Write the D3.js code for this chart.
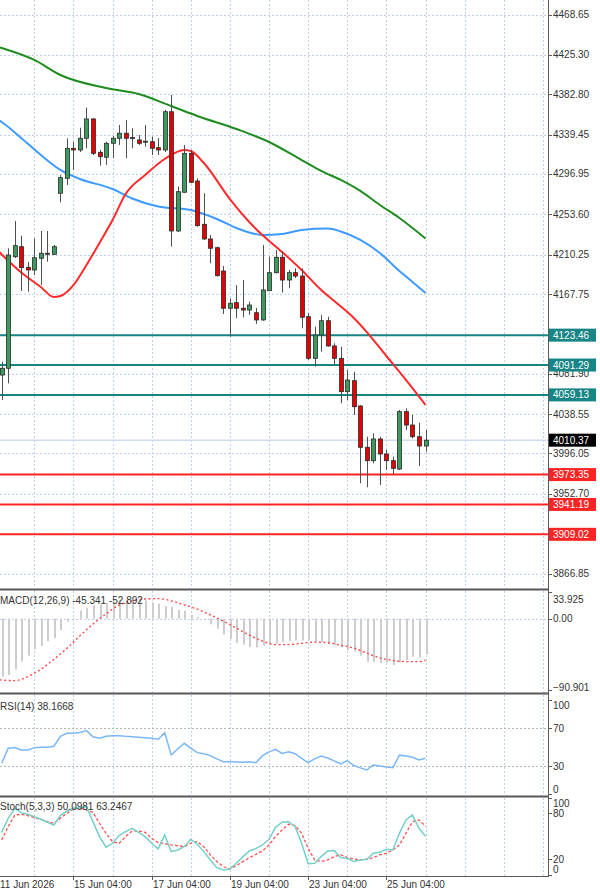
<!DOCTYPE html>
<html>
<head>
<meta charset="utf-8">
<script src="https://cdn.jsdelivr.net/npm/d3@7"></script>
<style>
  html, body { margin: 0; padding: 0; background: #fff; }
  svg { display: block; font-family: "Liberation Sans", Arial, sans-serif; font-size: 10px; }
</style>
</head>
<body>
<div id="chart"></div>
<script>
// ---- data (H4 candles, index 0 = leftmost bar) ----
const opens = [4080.5, 4087.8, 4207.9, 4218.7, 4196.5, 4193.6, 4206.2, 4211.6, 4210.5, 4276.2,
  4292.3, 4324.6, 4322.8, 4335.4, 4356.2, 4320.3, 4315.0, 4330.0, 4335.4, 4340.8,
  4336.3, 4333.6, 4331.4, 4331.7, 4325.3, 4322.8, 4364.0, 4235.6, 4277.3, 4319.2,
  4289.4, 4242.8, 4227.0, 4217.6, 4192.5, 4152.4, 4158.4, 4152.4, 4150.5, 4147.6,
  4139.8, 4171.3, 4190.7, 4207.3, 4182.8, 4190.7, 4187.1, 4143.3, 4098.5, 4123.6,
  4139.0, 4111.8, 4098.5, 4062.6, 4074.4, 4047.2, 4002.7, 3988.3, 4011.7, 3995.5,
  3988.3, 3979.3, 4041.1, 4026.7, 4014.1, 4004.1];
const highs = [4094.9, 4217.0, 4246.4, 4230.5, 4202.2, 4227.7, 4235.6, 4235.6, 4220.5, 4295.9,
  4335.4, 4331.7, 4346.8, 4368.4, 4357.2, 4322.8, 4331.7, 4337.9, 4349.7, 4355.1,
  4346.2, 4339.0, 4349.7, 4337.1, 4335.4, 4365.9, 4382.0, 4283.3, 4328.2, 4322.8,
  4292.3, 4276.2, 4231.3, 4218.7, 4197.9, 4163.1, 4177.4, 4182.8, 4159.5, 4152.7,
  4220.5, 4207.9, 4215.1, 4213.3, 4193.6, 4195.4, 4195.4, 4147.0, 4132.6, 4145.2,
  4143.3, 4114.7, 4111.0, 4086.0, 4084.1, 4048.2, 4014.1, 4017.8, 4014.1, 3999.8,
  3992.6, 4042.9, 4044.7, 4037.5, 4029.2, 4021.3];
const lows = [4053.6, 4071.6, 4206.5, 4171.0, 4170.2, 4188.2, 4177.4, 4202.5, 4209.8, 4266.5,
  4285.1, 4301.3, 4320.6, 4324.6, 4317.4, 4305.9, 4306.7, 4313.9, 4328.2, 4313.9,
  4324.6, 4328.2, 4326.4, 4317.4, 4317.4, 4320.6, 4218.7, 4234.5, 4276.5, 4287.0,
  4240.2, 4225.9, 4200.8, 4186.4, 4146.2, 4121.8, 4141.6, 4142.7, 4145.2, 4135.5,
  4139.0, 4171.0, 4190.0, 4169.2, 4173.9, 4185.0, 4130.8, 4096.7, 4089.5, 4105.7,
  4111.0, 4091.3, 4050.1, 4053.6, 4037.5, 3964.0, 3959.7, 3985.5, 3962.1, 3978.3,
  3974.0, 3978.3, 4021.3, 4012.4, 3982.6, 3998.0];
const closes = [4087.8, 4209.8, 4219.8, 4196.1, 4193.6, 4206.8, 4211.6, 4210.8, 4218.7, 4293.0,
  4324.6, 4322.8, 4335.4, 4356.2, 4319.2, 4315.6, 4330.0, 4335.4, 4340.8, 4335.4,
  4335.4, 4330.0, 4332.2, 4324.6, 4322.8, 4364.0, 4235.6, 4277.9, 4319.2, 4288.0,
  4241.3, 4227.0, 4217.0, 4187.5, 4152.4, 4157.8, 4152.4, 4150.5, 4155.9, 4139.8,
  4172.1, 4190.7, 4207.3, 4182.8, 4190.7, 4187.1, 4142.7, 4098.5, 4123.6, 4139.0,
  4111.8, 4098.5, 4062.6, 4075.2, 4046.4, 4002.7, 3988.3, 4011.7, 3995.5, 3988.3,
  3980.1, 4041.1, 4026.7, 4014.1, 4004.1, 4010.37];

// moving averages, read as [bar index, value]
const maFast = [[-1, 4217.3], [3, 4190.9], [6, 4175.3], [8, 4164.5], [9, 4165.6], [11, 4177.4],
  [13, 4199.0], [15, 4222.7], [17, 4247.4], [19, 4275.4], [22, 4295.9], [25, 4313.1],
  [28, 4322.8], [29, 4321.7], [31, 4308.8], [35, 4270.0], [39, 4237.7], [43, 4213.0],
  [46, 4193.6], [49, 4172.1], [51, 4160.2], [54, 4141.9], [56, 4126.8], [59, 4101.0],
  [62, 4075.2], [65, 4048.3]];
const maMid = [[-1, 4357.3], [0, 4352.9], [3, 4335.7], [6, 4317.4], [9, 4301.3], [12, 4291.5],
  [17, 4280.8], [20, 4270.6], [24, 4262.0], [29, 4258.2], [33, 4248.5], [36, 4238.8],
  [40, 4231.3], [43, 4232.4], [46, 4236.7], [50, 4238.3], [52, 4235.1], [55, 4226.0],
  [58, 4211.9], [61, 4192.5], [63, 4180.7], [65, 4168.9]];
const maSlow = [[-1, 4434.8], [0, 4432.6], [5, 4419.7], [9, 4403.5], [16, 4389.5], [21, 4383.1],
  [26, 4370.1], [30, 4359.4], [36, 4345.4], [41, 4331.4], [46, 4312.0], [49, 4300.2],
  [52, 4290.5], [55, 4278.7], [58, 4263.6], [61, 4249.6], [65, 4227.5]];

const resistLevels = [4123.46, 4091.29, 4059.13];
const supportLevels = [3973.35, 3941.19, 3909.02];
const lastPrice = 4010.37;
const priceTicks = [4468.65, 4425.30, 4382.80, 4339.45, 4296.95, 4253.60, 4210.25, 4167.75,
  4081.90, 4038.55, 3996.05, 3952.70, 3866.85];

// MACD(12,26,9): histogram per bar, signal as [bar index, value]
const macdHist = [-73.8, -71.8, -64.6, -54.7, -47.1, -39.1, -34.7, -28.7, -24.7, -14.8,
  -4.0, 0.8, 10.0, 14.0, 16.8, 18.0, 19.9, 21.9, 23.1, 23.1,
  23.9, 23.9, 23.1, 20.7, 19.1, 16.0, 15.2, 11.2, 10.0, 4.8,
  2.0, -0.5, -7.2, -12.8, -19.9, -25.9, -31.1, -33.1, -35.9, -36.7,
  -34.3, -33.1, -31.9, -29.9, -28.7, -27.9, -27.9, -27.1, -29.9, -29.9,
  -31.9, -33.9, -36.7, -39.9, -41.9, -47.1, -55.0, -55.0, -56.6, -55.8,
  -59.0, -55.8, -52.7, -48.7, -49.5, -45.341];
const macdSignal = [[-1, -77.5], [0, -78.2], [2, -79.0], [4, -73.8], [6, -64.6], [8, -51.9], [10, -37.9],
  [12, -21.9], [14, -6.8], [16, 6.0], [18, 17.2], [20, 22.7], [22, 25.1], [24, 25.5],
  [26, 22.7], [28, 17.6], [30, 12.0], [32, 4.8], [34, -3.2], [36, -12.0], [38, -21.1],
  [40, -28.7], [42, -33.1], [44, -33.1], [46, -31.5], [48, -29.9], [50, -30.7],
  [52, -33.9], [54, -37.5], [56, -43.9], [58, -49.9], [60, -53.1], [62, -54.7],
  [64, -54.7], [65, -52.892]];
const macdTicks = [33.925, 0.00, -90.901];

const rsiValues = [33.0, 48.8, 49.5, 47.0, 47.0, 49.5, 49.8, 50.0, 51.0, 61.5,
  64.7, 64.7, 65.5, 67.5, 61.0, 59.4, 61.5, 62.2, 62.2, 61.5,
  61.0, 60.6, 60.0, 59.4, 58.3, 65.4, 41.7, 48.0, 54.1, 49.0,
  44.2, 43.0, 41.0, 37.5, 34.6, 34.6, 34.3, 33.9, 34.6, 33.5,
  41.0, 45.0, 47.7, 43.4, 45.2, 43.0, 38.0, 33.5, 37.5, 40.6,
  38.5, 35.5, 32.1, 35.7, 30.5, 28.0, 25.8, 31.1, 30.0, 29.0,
  28.2, 41.5, 40.5, 39.3, 36.4, 38.1668];
const rsiTicks = [100, 70, 30, 0];
const rsiLevels = [70, 30];

const stochMain = [55.2, 73.5, 86.5, 80.9, 78.7, 75.7, 72.2, 68.3, 64.8, 77.0,
  83.0, 86.5, 87.4, 88.7, 69.1, 49.6, 35.7, 40.9, 50.9, 56.1,
  60.4, 55.2, 49.6, 40.9, 33.5, 51.7, 30.0, 32.2, 36.5, 46.1,
  39.6, 30.0, 19.1, 9.1, 6.1, 7.4, 14.8, 23.5, 30.9, 34.3,
  38.7, 46.1, 61.7, 68.3, 69.1, 62.6, 40.9, 14.3, 14.8, 23.5,
  30.9, 31.3, 22.2, 21.3, 17.0, 19.1, 20.0, 27.8, 29.1, 33.0,
  32.2, 53.9, 71.3, 77.8, 60.4, 50.0981];
const stochSignal = [45.2, 62.6, 77.8, 78.7, 77.0, 74.3, 72.2, 69.1, 67.0, 73.5,
  80.0, 85.7, 86.5, 84.3, 81.3, 67.0, 53.9, 43.0, 40.9, 49.6,
  57.0, 57.0, 55.2, 47.4, 41.7, 40.4, 38.7, 37.8, 36.5, 40.9,
  43.0, 36.5, 25.7, 17.0, 10.4, 7.4, 11.7, 17.0, 22.2, 26.5,
  30.9, 38.7, 49.6, 58.3, 65.7, 63.9, 53.9, 34.3, 19.1, 17.0,
  19.1, 23.5, 25.7, 22.6, 20.4, 19.1, 20.0, 22.2, 25.7, 27.8,
  32.2, 38.7, 53.9, 69.1, 71.3, 63.2467];
const stochTicks = [100, 80, 20, 0];

const dateLabels = ["11 Jun 2026", "15 Jun 04:00", "17 Jun 04:00", "19 Jun 04:00", "23 Jun 04:00", "25 Jun 04:00"];
const dateIndex = [-1, 11, 23, 35, 47, 59];

// ---- layout ----
const width = 600, height = 893, plotW = 548;
const panes = {
  main:  { top: 0,   bottom: 588 },
  macd:  { top: 591, bottom: 692 },
  rsi:   { top: 695, bottom: 795 },
  stoch: { top: 798, bottom: 876 }
};
const textColor = '#333';
const gridColor = '#bfd0ec';

const x = d3.scaleLinear().domain([0, 65]).range([1.7, 425.5]);
const yPrice = d3.scaleLinear().domain([3866.85, 4468.65]).range([573.5, 14.5]);
const yMacd = d3.scaleLinear().domain([-90.901, 33.925]).range([690, 592]);
const yRsi = d3.scaleLinear().domain([0, 100]).range([794.3, 700]);
const yStoch = d3.scaleLinear().domain([0, 100]).range([874.6, 798]);

const svg = d3.select('#chart').append('svg')
  .attr('width', width)
  .attr('height', height);

const defs = svg.append('defs');
Object.entries(panes).forEach(([k, p]) => {
  defs.append('clipPath').attr('id', 'clip-' + k)
    .append('rect')
    .attr('x', 0).attr('y', p.top)
    .attr('width', plotW).attr('height', p.bottom - p.top);
});

// vertical grid, every 6 bars, in all panes
const gridIdx = d3.range(5, 84, 6);
Object.values(panes).forEach(p => {
  svg.append('g').selectAll('line')
    .data(gridIdx)
    .enter().append('line')
    .attr('x1', d => Math.round(x(d)) + 0.5)
    .attr('x2', d => Math.round(x(d)) + 0.5)
    .attr('y1', p.top)
    .attr('y2', p.bottom)
    .attr('stroke', gridColor)
    .attr('stroke-dasharray', '2,2');
});

// horizontal price grid
svg.append('g').selectAll('line')
  .data(priceTicks)
  .enter().append('line')
  .attr('x1', 0).attr('x2', plotW)
  .attr('y1', d => Math.round(yPrice(d)) + 0.5)
  .attr('y2', d => Math.round(yPrice(d)) + 0.5)
  .attr('stroke', gridColor)
  .attr('stroke-dasharray', '2,2');

// ---- main pane ----
const main = svg.append('g').attr('clip-path', 'url(#clip-main)');

// last price line
main.append('line')
  .attr('x1', 0).attr('x2', plotW)
  .attr('y1', yPrice(lastPrice)).attr('y2', yPrice(lastPrice))
  .attr('stroke', '#cfdbef')
  .attr('stroke-width', 1.5);

// level lines
main.selectAll('.res')
  .data(resistLevels)
  .enter().append('line')
  .attr('class', 'res')
  .attr('x1', 0).attr('x2', plotW)
  .attr('y1', d => yPrice(d)).attr('y2', d => yPrice(d))
  .attr('stroke', '#178585')
  .attr('stroke-width', 2);

main.selectAll('.sup')
  .data(supportLevels)
  .enter().append('line')
  .attr('class', 'sup')
  .attr('x1', 0).attr('x2', plotW)
  .attr('y1', d => yPrice(d)).attr('y2', d => yPrice(d))
  .attr('stroke', '#ff2424')
  .attr('stroke-width', 2);

// moving averages
const maLine = d3.line()
  .x(d => x(d[0]))
  .y(d => yPrice(d[1]))
  .curve(d3.curveMonotoneX);

[[maSlow, '#1f8c1f'], [maMid, '#3d9bff'], [maFast, '#ff2a2a']].forEach(([pts, col]) => {
  main.append('path')
    .datum(pts)
    .attr('d', maLine)
    .attr('fill', 'none')
    .attr('stroke', col)
    .attr('stroke-width', 2);
});

// candles
const bars = d3.range(opens.length).map(i => ({
  i, o: opens[i], h: highs[i], l: lows[i], c: closes[i]
}));

const candle = main.selectAll('.candle')
  .data(bars)
  .enter().append('g')
  .attr('class', 'candle');

candle.append('line')
  .attr('x1', d => Math.round(x(d.i)) + 0.5)
  .attr('x2', d => Math.round(x(d.i)) + 0.5)
  .attr('y1', d => yPrice(d.h))
  .attr('y2', d => yPrice(d.l))
  .attr('stroke', '#505050')
  .attr('stroke-width', 1);

candle.append('rect')
  .attr('x', d => Math.round(x(d.i)) - 1.5)
  .attr('width', 4)
  .attr('y', d => yPrice(Math.max(d.o, d.c)))
  .attr('height', d => Math.max(1, Math.abs(yPrice(d.o) - yPrice(d.c))))
  .attr('fill', d => d.c >= d.o ? '#3d9a5e' : '#e40000')
  .attr('stroke', '#2a2a2a')
  .attr('stroke-width', 0.8);

// ---- MACD pane ----
const macdG = svg.append('g').attr('clip-path', 'url(#clip-macd)');

macdG.append('line')
  .attr('x1', 0).attr('x2', plotW)
  .attr('y1', Math.round(yMacd(0)) + 0.5).attr('y2', Math.round(yMacd(0)) + 0.5)
  .attr('stroke', gridColor)
  .attr('stroke-dasharray', '2,2');

macdG.selectAll('.hist')
  .data(macdHist)
  .enter().append('rect')
  .attr('class', 'hist')
  .attr('x', (d, i) => Math.round(x(i)))
  .attr('width', 2)
  .attr('y', d => Math.min(yMacd(0), yMacd(d)))
  .attr('height', d => Math.abs(yMacd(d) - yMacd(0)))
  .attr('fill', '#cdcdcd');

macdG.append('path')
  .datum(macdSignal)
  .attr('d', d3.line().x(d => x(d[0])).y(d => yMacd(d[1])).curve(d3.curveMonotoneX))
  .attr('fill', 'none')
  .attr('stroke', '#ff4a4a')
  .attr('stroke-width', 1.4)
  .attr('stroke-dasharray', '2,2.5');

svg.append('text')
  .attr('x', 0).attr('y', 600).attr('dy', '0.35em')
  .attr('fill', textColor)
  .text(`MACD(12,26,9) ${macdHist[macdHist.length - 1].toFixed(3)} ${macdSignal[macdSignal.length - 1][1].toFixed(3)}`);

// ---- RSI pane ----
const rsiG = svg.append('g').attr('clip-path', 'url(#clip-rsi)');

rsiG.selectAll('.lvl')
  .data(rsiLevels)
  .enter().append('line')
  .attr('x1', 0).attr('x2', plotW)
  .attr('y1', d => Math.round(yRsi(d)) + 0.5).attr('y2', d => Math.round(yRsi(d)) + 0.5)
  .attr('stroke', '#b5b5b5')
  .attr('stroke-dasharray', '2,2');

rsiG.append('path')
  .datum(rsiValues)
  .attr('d', d3.line().x((d, i) => x(i)).y(d => yRsi(d)))
  .attr('fill', 'none')
  .attr('stroke', '#7ab8f5')
  .attr('stroke-width', 1.5);

svg.append('text')
  .attr('x', 0).attr('y', 706).attr('dy', '0.35em')
  .attr('fill', textColor)
  .text(`RSI(14) ${rsiValues[rsiValues.length - 1].toFixed(4)}`);

// ---- Stochastic pane ----
const stochG = svg.append('g').attr('clip-path', 'url(#clip-stoch)');

stochG.append('path')
  .datum(stochSignal)
  .attr('d', d3.line().x((d, i) => x(i)).y(d => yStoch(d)))
  .attr('fill', 'none')
  .attr('stroke', '#ff5050')
  .attr('stroke-width', 1.3)
  .attr('stroke-dasharray', '3,2');

stochG.append('path')
  .datum(stochMain)
  .attr('d', d3.line().x((d, i) => x(i)).y(d => yStoch(d)))
  .attr('fill', 'none')
  .attr('stroke', '#74d0c9')
  .attr('stroke-width', 1.5);

svg.append('text')
  .attr('x', 0).attr('y', 806).attr('dy', '0.35em')
  .attr('fill', textColor)
  .text(`Stoch(5,3,3) ${stochMain[stochMain.length - 1].toFixed(4)} ${stochSignal[stochSignal.length - 1].toFixed(4)}`);

// ---- pane separators and frame ----
[panes.main.bottom, panes.macd.bottom, panes.rsi.bottom].forEach(y => {
  svg.append('rect')
    .attr('x', 0).attr('y', y)
    .attr('width', plotW).attr('height', 3)
    .attr('fill', '#a8a8a8');
  svg.append('line')
    .attr('x1', 0).attr('x2', plotW)
    .attr('y1', y + 1.5).attr('y2', y + 1.5)
    .attr('stroke', '#5a5a5a');
});
svg.append('line')
  .attr('x1', 0).attr('x2', plotW)
  .attr('y1', panes.stoch.bottom + 0.5).attr('y2', panes.stoch.bottom + 0.5)
  .attr('stroke', '#5a5a5a');
svg.append('line')
  .attr('x1', plotW + 0.5).attr('x2', plotW + 0.5)
  .attr('y1', 0).attr('y2', panes.stoch.bottom + 1)
  .attr('stroke', '#5a5a5a');

// ---- right axes ----
function axisLabels(ticks, scale, lo, hi, fmt) {
  const g = svg.append('g');
  g.selectAll('line')
    .data(ticks)
    .enter().append('line')
    .attr('x1', plotW).attr('x2', plotW + 4)
    .attr('y1', d => Math.round(scale(d)) + 0.5)
    .attr('y2', d => Math.round(scale(d)) + 0.5)
    .attr('stroke', '#5a5a5a');
  g.selectAll('text')
    .data(ticks)
    .enter().append('text')
    .attr('x', plotW + 5)
    .attr('y', d => Math.max(lo, Math.min(hi, scale(d))))
    .attr('dy', '0.35em')
    .attr('fill', textColor)
    .text(fmt);
}

axisLabels(priceTicks, yPrice, 6, 584, d => d.toFixed(2));
axisLabels(macdTicks, yMacd, panes.macd.top + 8, panes.macd.bottom - 5,
  d => d === 0 ? '0.00' : d3.format('.3f')(d));
axisLabels(rsiTicks, yRsi, panes.rsi.top + 10, panes.rsi.bottom - 6, d => d);
axisLabels(stochTicks, yStoch, panes.stoch.top + 5, panes.stoch.bottom - 7, d => d);

// level label boxes
function levelBox(v, fill) {
  const g = svg.append('g');
  g.append('rect')
    .attr('x', plotW + 1).attr('y', yPrice(v) - 6.5)
    .attr('width', 47).attr('height', 13)
    .attr('fill', fill);
  g.append('text')
    .attr('x', plotW + 5).attr('y', yPrice(v))
    .attr('dy', '0.35em')
    .attr('fill', '#fff')
    .text(v.toFixed(2));
}
resistLevels.forEach(v => levelBox(v, '#178585'));
supportLevels.forEach(v => levelBox(v, '#ff2424'));
levelBox(lastPrice, '#000');

// ---- time axis ----
const timeG = svg.append('g');
timeG.selectAll('line')
  .data(dateIndex)
  .enter().append('line')
  .attr('x1', d => Math.round(x(d)) + 0.5)
  .attr('x2', d => Math.round(x(d)) + 0.5)
  .attr('y1', panes.stoch.bottom)
  .attr('y2', panes.stoch.bottom + 4)
  .attr('stroke', '#5a5a5a');
timeG.selectAll('text')
  .data(dateIndex)
  .enter().append('text')
  .attr('x', (d, i) => Math.max(0, Math.round(x(d)) + 1))
  .attr('y', 888)
  .attr('fill', textColor)
  .text((d, i) => dateLabels[i]);
</script>
</body>
</html>
